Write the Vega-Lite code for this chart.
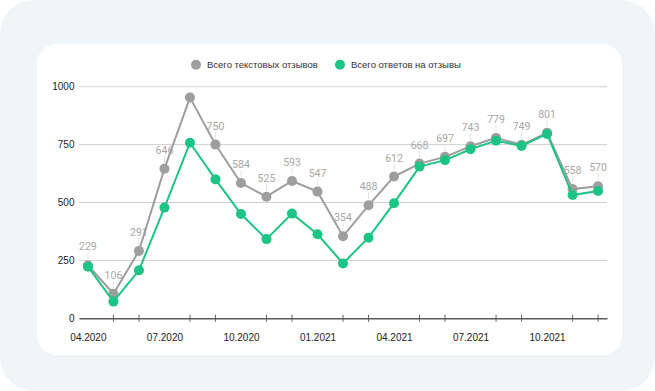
{
  "$schema": "https://vega.github.io/schema/vega-lite/v6.json",
  "width": 528,
  "height": 231.6,
  "autosize": "none",
  "padding": {"left": 79, "top": 86.7, "right": 48, "bottom": 72.7},
  "background": "#ffffff",
  "config": {
    "view": {"stroke": null},
    "font": "Liberation Sans"
  },
  "datasets": {
    "series": [
      {"m": "04.2020", "s": "Всего текстовых отзывов", "v": 229},
      {"m": "05.2020", "s": "Всего текстовых отзывов", "v": 106},
      {"m": "06.2020", "s": "Всего текстовых отзывов", "v": 291},
      {"m": "07.2020", "s": "Всего текстовых отзывов", "v": 646},
      {"m": "08.2020", "s": "Всего текстовых отзывов", "v": 953},
      {"m": "09.2020", "s": "Всего текстовых отзывов", "v": 750},
      {"m": "10.2020", "s": "Всего текстовых отзывов", "v": 584},
      {"m": "11.2020", "s": "Всего текстовых отзывов", "v": 525},
      {"m": "12.2020", "s": "Всего текстовых отзывов", "v": 593},
      {"m": "01.2021", "s": "Всего текстовых отзывов", "v": 547},
      {"m": "02.2021", "s": "Всего текстовых отзывов", "v": 354},
      {"m": "03.2021", "s": "Всего текстовых отзывов", "v": 488},
      {"m": "04.2021", "s": "Всего текстовых отзывов", "v": 612},
      {"m": "05.2021", "s": "Всего текстовых отзывов", "v": 668},
      {"m": "06.2021", "s": "Всего текстовых отзывов", "v": 697},
      {"m": "07.2021", "s": "Всего текстовых отзывов", "v": 743},
      {"m": "08.2021", "s": "Всего текстовых отзывов", "v": 779},
      {"m": "09.2021", "s": "Всего текстовых отзывов", "v": 749},
      {"m": "10.2021", "s": "Всего текстовых отзывов", "v": 801},
      {"m": "11.2021", "s": "Всего текстовых отзывов", "v": 558},
      {"m": "12.2021", "s": "Всего текстовых отзывов", "v": 570},
      {"m": "04.2020", "s": "Всего ответов на отзывы", "v": 223},
      {"m": "05.2020", "s": "Всего ответов на отзывы", "v": 72},
      {"m": "06.2020", "s": "Всего ответов на отзывы", "v": 207},
      {"m": "07.2020", "s": "Всего ответов на отзывы", "v": 478},
      {"m": "08.2020", "s": "Всего ответов на отзывы", "v": 758},
      {"m": "09.2020", "s": "Всего ответов на отзывы", "v": 600},
      {"m": "10.2020", "s": "Всего ответов на отзывы", "v": 450},
      {"m": "11.2020", "s": "Всего ответов на отзывы", "v": 342},
      {"m": "12.2020", "s": "Всего ответов на отзывы", "v": 452},
      {"m": "01.2021", "s": "Всего ответов на отзывы", "v": 363},
      {"m": "02.2021", "s": "Всего ответов на отзывы", "v": 237},
      {"m": "03.2021", "s": "Всего ответов на отзывы", "v": 348},
      {"m": "04.2021", "s": "Всего ответов на отзывы", "v": 497},
      {"m": "05.2021", "s": "Всего ответов на отзывы", "v": 655},
      {"m": "06.2021", "s": "Всего ответов на отзывы", "v": 683},
      {"m": "07.2021", "s": "Всего ответов на отзывы", "v": 730},
      {"m": "08.2021", "s": "Всего ответов на отзывы", "v": 767},
      {"m": "09.2021", "s": "Всего ответов на отзывы", "v": 744},
      {"m": "10.2021", "s": "Всего ответов на отзывы", "v": 796},
      {"m": "11.2021", "s": "Всего ответов на отзывы", "v": 532},
      {"m": "12.2021", "s": "Всего ответов на отзывы", "v": 550}
    ]
  },
  "data": {"name": "series"},
  "encoding": {
    "x": {
      "field": "m",
      "type": "ordinal",
      "sort": ["04.2020","05.2020","06.2020","07.2020","08.2020","09.2020","10.2020","11.2020","12.2020","01.2021","02.2021","03.2021","04.2021","05.2021","06.2021","07.2021","08.2021","09.2021","10.2021","11.2021","12.2021"],
      "scale": {"type": "point", "padding": 0.35},
      "axis": {
        "title": null,
        "zindex": 1,
        "ticks": false,
        "domainColor": "#5a5a5a",
        "domainWidth": 1.5,
        "labelAngle": 0,
        "labelPadding": 14,
        "labelFontSize": 10,
        "labelColor": "#222222",
        "labelExpr": "indexof(['04','07','10','01'], substring(datum.value,0,2)) >= 0 ? datum.value : ''"
      }
    },
    "y": {
      "field": "v",
      "type": "quantitative",
      "scale": {"domain": [0, 1000], "nice": false},
      "axis": {
        "title": null,
        "zindex": 1,
        "format": "d",
        "values": [0, 250, 500, 750, 1000],
        "grid": false,
        "domain": false,
        "ticks": false,
        "labelPadding": 5,
        "labelFontSize": 10,
        "labelColor": "#222222"
      }
    },
    "color": {
      "field": "s",
      "type": "nominal",
      "scale": {
        "domain": ["Всего текстовых отзывов", "Всего ответов на отзывы"],
        "range": ["#9e9e9e", "#1cc485"]
      },
      "legend": {
        "title": null,
        "orient": "none",
        "direction": "horizontal",
        "legendX": 112,
        "legendY": -27,
        "symbolType": "circle",
        "symbolSize": 100,
        "symbolStrokeWidth": 0,
        "labelFontSize": 9.5,
        "labelColor": "#333333",
        "labelOffset": 6,
        "columnPadding": 17
      }
    }
  },
  "layer": [
    {
      "data": {"values": [{"k": "outer"}]},
      "mark": {"type": "rect", "fill": "#f2f5f8", "cornerRadius": 34, "xOffset": -79, "x2Offset": 48, "yOffset": -86.7, "y2Offset": 72.7},
      "encoding": {"x": {"value": 0}, "x2": {"value": "width"}, "y": {"value": 0}, "y2": {"value": "height"}, "color": null}
    },
    {
      "data": {"values": [{"k": "card"}]},
      "mark": {"type": "rect", "fill": "#ffffff", "cornerRadius": 20, "xOffset": -42, "x2Offset": 15, "yOffset": -42.7, "y2Offset": 36.7},
      "encoding": {"x": {"value": 0}, "x2": {"value": "width"}, "y": {"value": 0}, "y2": {"value": "height"}, "color": null}
    },
    {
      "data": {"values": [{"g": 250}, {"g": 500}, {"g": 750}, {"g": 1000}]},
      "mark": {"type": "rule", "color": "#d0d0d0", "strokeWidth": 1},
      "encoding": {"x": null, "y": {"field": "g", "type": "quantitative"}, "color": null}
    },
    {
      "data": {"name": "series"},
      "transform": [
        {"filter": "datum.s == 'Всего текстовых отзывов' && indexof(['04','07','10','01'], substring(datum.m,0,2)) < 0"}
      ],
      "mark": {"type": "tick", "orient": "vertical", "color": "#222222", "size": 7, "thickness": 1},
      "encoding": {"y": {"datum": 0, "type": "quantitative"}, "color": null}
    },
    {
      "transform": [{"filter": "datum.s == 'Всего текстовых отзывов' && datum.v < 900"}],
      "mark": {"type": "rule", "color": "#e4e4e4", "strokeWidth": 1, "yOffset": -6, "y2Offset": -13},
      "encoding": {"y2": {"field": "v"}, "color": null}
    },
    {
      "transform": [{"filter": "datum.s == 'Всего текстовых отзывов' && datum.v < 900"}],
      "mark": {"type": "text", "dy": -18, "baseline": "middle", "font": "Roboto", "fontSize": 10.5, "color": "#a6a6a6"},
      "encoding": {"text": {"field": "v", "type": "quantitative"}, "color": null}
    },
    {
      "transform": [{"filter": "datum.s == 'Всего текстовых отзывов'"}],
      "mark": {"type": "line", "strokeWidth": 2}
    },
    {
      "transform": [{"filter": "datum.s == 'Всего текстовых отзывов'"}],
      "mark": {"type": "point", "filled": true, "size": 100, "opacity": 1}
    },
    {
      "transform": [{"filter": "datum.s == 'Всего ответов на отзывы'"}],
      "mark": {"type": "line", "strokeWidth": 2}
    },
    {
      "transform": [{"filter": "datum.s == 'Всего ответов на отзывы'"}],
      "mark": {"type": "point", "filled": true, "size": 100, "opacity": 1}
    }
  ]
}
